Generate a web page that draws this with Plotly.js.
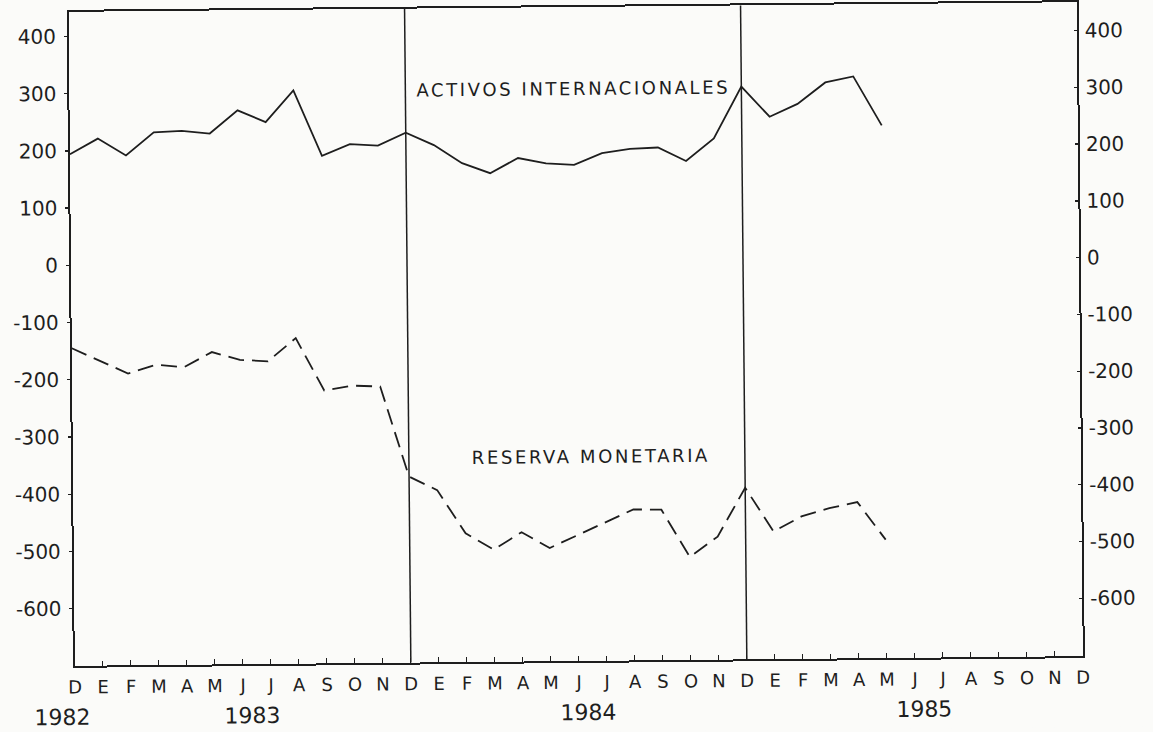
<!DOCTYPE html>
<html>
<head>
<meta charset="utf-8">
<script src="https://cdn.plot.ly/plotly-3.0.1.min.js"></script>
<style>
html, body { margin: 0; padding: 0; background: #fbfbf9; overflow: hidden; }
#chart { width: 1153px; height: 732px; transform: rotate(-0.55deg); transform-origin: 576px 366px; }
.annotation[data-index="0"] text, .annotation[data-index="1"] text { letter-spacing: 2.6px; }
</style>
</head>
<body>
<div id="chart"></div>
<script>
// ---- data ----
const monthTicks = [0,1,2,3,4,5,6,7,8,9,10,11,12,13,14,15,16,17,18,19,20,21,22,23,24,25,26,27,28,29,30,31,32,33,34,35,36];
const monthLabels = ["D","E","F","M","A","M","J","J","A","S","O","N",
                     "D","E","F","M","A","M","J","J","A","S","O","N",
                     "D","E","F","M","A","M","J","J","A","S","O","N","D"];
const yearLabels = ["1982","1983","1984","1985"];
const dataMonths = [0,1,2,3,4,5,6,7,8,9,10,11,12,13,14,15,16,17,18,19,20,21,22,23,24,25,26,27,28,29];
const activosInternacionales = [194,221,191,231,233,228,268,247,302,187,207,204,
                                226,204,172,154,180,170,167,187,194,196,172,211,
                                301,248,270,307,317,231];
const reservaMonetaria = [-145,-167,-190,-175,-180,-154,-168,-171,-131,-223,-215,-217,
                          -375,-399,-475,-504,-474,-502,-480,-458,-436,-437,-520,-485,
                          -400,-477,-451,-437,-427,-493];
const yTickVals = [400,300,200,100,0,-100,-200,-300,-400,-500,-600];
const yTickText = ["400","300","200","100","0","-100","-200","-300","-400","-500","-600"];
const seriesNames = ["ACTIVOS INTERNACIONALES","RESERVA MONETARIA"];
const yearBoundaries = [12, 24];

// ---- styling ----
const ink = "#1e1e1e";
const font = "DejaVu Sans, Liberation Sans, sans-serif";
const xMax = 36;

const traces = [
  { x: dataMonths, y: activosInternacionales, type: "scatter", mode: "lines",
    line: { color: ink, width: 1.8 }, name: seriesNames[0], hoverinfo: "skip" },
  { x: dataMonths, y: reservaMonetaria, type: "scatter", mode: "lines",
    line: { color: ink, width: 1.8, dash: "16px,8px" }, name: seriesNames[1], hoverinfo: "skip" },
  // invisible companion trace so the right-hand axis is drawn
  { x: dataMonths, y: activosInternacionales, type: "scatter", mode: "lines", yaxis: "y2",
    line: { color: "rgba(0,0,0,0)", width: 0 }, hoverinfo: "skip", showlegend: false }
];

const yearPos = [-0.45, 6.33, 18.33, 30.33];
const annotations = [
  { text: seriesNames[0], x: 18, y: 301, xref: "x", yref: "y", showarrow: false,
    font: { family: font, size: 18, color: ink } },
  { text: seriesNames[1], x: 18.5, y: -343, xref: "x", yref: "y", showarrow: false,
    font: { family: font, size: 18, color: ink } }
];
yearLabels.forEach((t, i) => annotations.push({
  text: t, x: yearPos[i] / xMax, y: -0.078, xref: "paper", yref: "paper",
  xanchor: "center", yanchor: "middle",
  showarrow: false, font: { family: font, size: 22, color: ink }
}));

const shapes = yearBoundaries.map(b => ({
  type: "line", xref: "x", yref: "paper", x0: b, x1: b, y0: 0, y1: 1,
  line: { color: ink, width: 1.5 }
}));

const layout = {
  width: 1153, height: 732, autosize: false,
  margin: { l: 72, r: 73, t: 7, b: 71, pad: 0 },
  paper_bgcolor: "#fbfbf9", plot_bgcolor: "#fbfbf9",
  showlegend: false,
  font: { family: font, color: ink },
  xaxis: {
    range: [0, xMax], tickmode: "array", tickvals: monthTicks, ticktext: monthLabels,
    ticks: "inside", ticklen: 5, tickwidth: 1.3, tickcolor: ink,
    showline: true, linecolor: ink, linewidth: 2, mirror: true,
    showgrid: false, zeroline: false, ticklabelstandoff: 4,
    tickfont: { family: font, size: 18, color: ink }
  },
  yaxis: {
    range: [-700, 443], tickmode: "array", tickvals: yTickVals, ticktext: yTickText,
    ticks: "outside", ticklen: 3, tickwidth: 1.3, tickcolor: ink,
    showline: true, linecolor: ink, linewidth: 2,
    showgrid: false, zeroline: false, ticklabelstandoff: 4,
    tickfont: { family: font, size: 20, color: ink }
  },
  yaxis2: {
    overlaying: "y", side: "right", anchor: "x",
    range: [-702, 450], tickmode: "array", tickvals: yTickVals, ticktext: yTickText,
    ticks: "inside", ticklen: 3, tickwidth: 1.3, tickcolor: ink,
    showline: true, linecolor: ink, linewidth: 2,
    showgrid: false, zeroline: false, ticklabelstandoff: 2,
    tickfont: { family: font, size: 20, color: ink }
  },
  annotations: annotations,
  shapes: shapes
};

Plotly.newPlot("chart", traces, layout, { staticPlot: true, displayModeBar: false });
</script>
</body>
</html>
